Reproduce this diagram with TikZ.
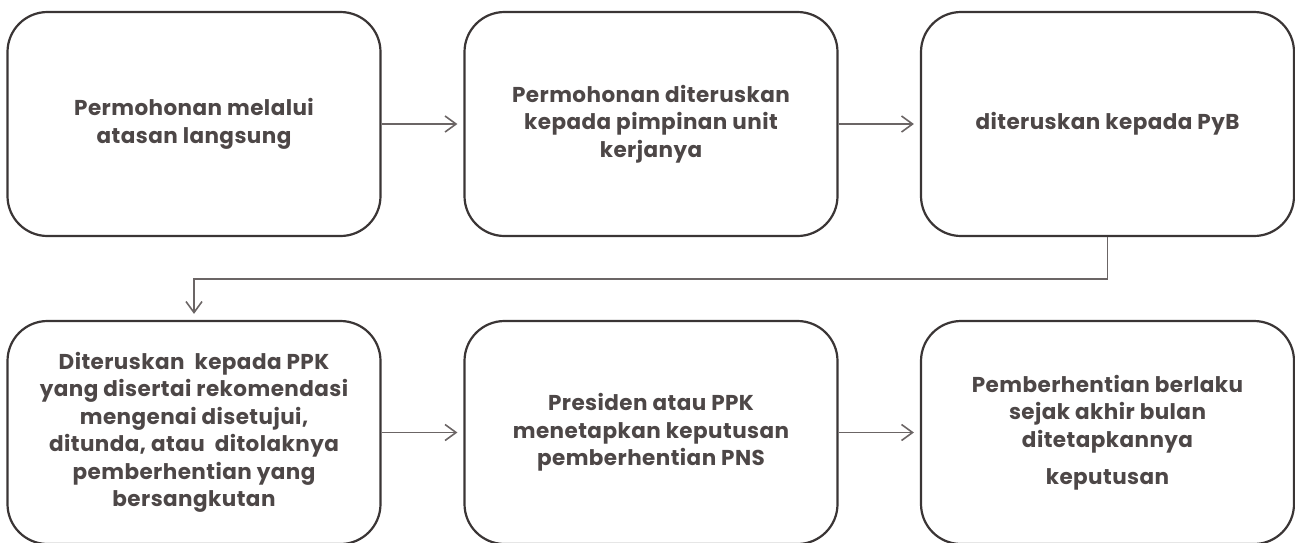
\documentclass[tikz,border=0pt]{standalone}
\usepackage{fontspec}
\setmainfont{Poppins}
\usetikzlibrary{arrows.meta}
\definecolor{boxline}{HTML}{3A3535}
\definecolor{arrowline}{HTML}{6B6565}
\definecolor{txt}{HTML}{4D4747}
\begin{document}
\begin{tikzpicture}[x=1pt,y=-1pt,
  stepbox/.style={draw=boxline, line width=2.2pt, rounded corners=40pt,
    minimum width=373pt, minimum height=224pt, inner sep=0pt, align=center,
    text=txt, font=\fontsize{21.5}{27.5}\selectfont\bfseries\addfontfeature{LetterSpace=2}},
  flow/.style={draw=arrowline, line width=1.6pt,
    -{Straight Barb[length=11pt,width=16pt,line width=1.6pt]}, shorten >=6pt}]
\useasboundingbox (0,0) rectangle (1295,542);
\begin{scope}
\clip (0,0) rectangle (1295,542);
\node[stepbox] (b1) at (194,124) {Permohonan melalui\\atasan langsung};
\node[stepbox] (b2) at (651,124) {Permohonan diteruskan\\kepada pimpinan unit\\kerjanya};
\node[stepbox] (b3) at (1107.5,124) {diteruskan kepada PyB};
\node[stepbox, minimum height=223pt] (b4) at (194,432.5) {Diteruskan \ kepada PPK\\yang disertai rekomendasi\\mengenai disetujui,\\ditunda, atau \ ditolaknya\\pemberhentian yang\\bersangkutan};
\node[stepbox, minimum height=223pt] (b5) at (651,432.5) {Presiden atau PPK\\menetapkan keputusan\\pemberhentian PNS};
\node[stepbox, minimum height=223pt] (b6) at (1107.5,432.5) {Pemberhentian berlaku\\sejak akhir bulan\\ditetapkannya\\[10pt]keputusan};
\end{scope}
\draw[flow] (b1) -- (b2);
\draw[flow] (b2) -- (b3);
\draw[flow] (b3.south) -- ++(0,42) -| (b4.north);
\draw[flow] (b4) -- (b5);
\draw[flow] (b5) -- (b6);
\end{tikzpicture}
\end{document}
